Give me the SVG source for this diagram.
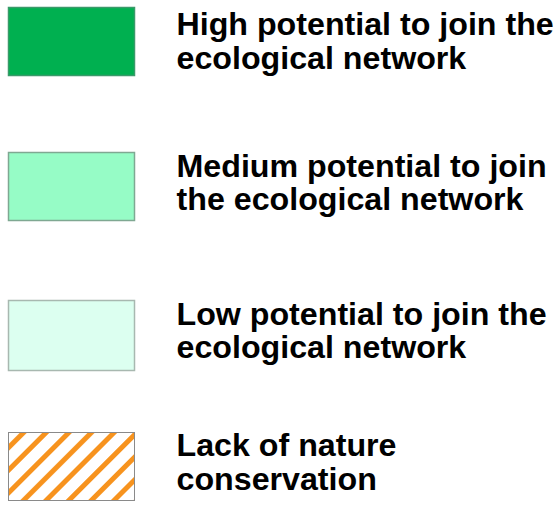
<svg xmlns="http://www.w3.org/2000/svg" width="557" height="506" viewBox="0 0 557 506">
<style>
.t{font-family:"Liberation Sans",Arial,sans-serif;font-weight:bold;font-size:32.2px;fill:#000}
</style>
<defs>
<pattern id="hatch" patternUnits="userSpaceOnUse" width="16" height="16" patternTransform="rotate(45)">
<rect width="16" height="16" fill="#fff"/>
<rect x="0" y="0" width="5" height="16" fill="#f7931e"/>
</pattern>
</defs>
<rect width="557" height="506" fill="#fff"/>
<g id="high">
<rect x="8.5" y="7.5" width="126" height="68" fill="#00b050" stroke="#3a9a6a" stroke-width="1.5"/>
<text class="t" x="176.5" y="35">High potential to join the</text>
<text class="t" x="176.5" y="68.5">ecological network</text>
</g>
<g id="medium">
<rect x="8.5" y="152.5" width="126" height="68" fill="#96fcc6" stroke="#7fa892" stroke-width="1.5"/>
<text class="t" x="176.5" y="176.5">Medium potential to join</text>
<text class="t" x="176.5" y="210">the ecological network</text>
</g>
<g id="low">
<rect x="8.5" y="300.5" width="126" height="70" fill="#dcfff0" stroke="#a8b8b0" stroke-width="1.5"/>
<text class="t" x="176.5" y="324.5">Low potential to join the</text>
<text class="t" x="176.5" y="358">ecological network</text>
</g>
<g id="lack">
<rect x="8.5" y="432.5" width="126" height="68" fill="url(#hatch)" stroke="#8a8a8a" stroke-width="1"/>
<text class="t" x="176.5" y="456">Lack of nature</text>
<text class="t" x="176.5" y="490">conservation</text>
</g>
</svg>
